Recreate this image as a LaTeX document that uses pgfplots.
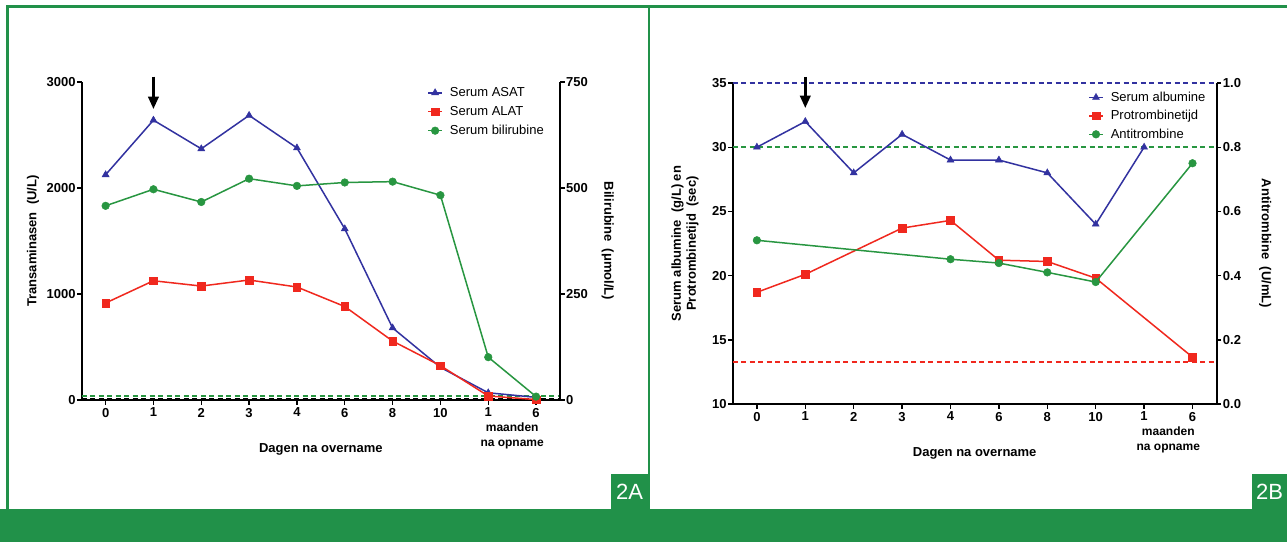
\documentclass[border=0pt]{standalone}
\usepackage{pgfplots}
\pgfplotsset{compat=1.18}
\usepackage{fontspec}
\setmainfont{Liberation Sans}
\usetikzlibrary{arrows.meta}
\definecolor{cblue}{RGB}{50,50,160}
\definecolor{cred}{RGB}{240,40,30}
\definecolor{cgreen}{RGB}{40,150,65}
\definecolor{fgreen}{RGB}{33,145,73}

\pgfplotsset{
  prism/.style={
    scale only axis,
    anchor=south west,
    xmin=-0.5, xmax=9.5,
    clip=false,
    axis line style={-, line width=1.6pt, black},
    tick style={line width=1.4pt, black},
    major tick length=4.5pt,
    tick align=outside,
    /pgf/number format/assume math mode=true,
    /pgf/number format/1000 sep={},
    tick label style={font=\fontsize{13}{15}\selectfont\bfseries},
    yticklabel style={inner sep=1.5pt},
    label style={font=\fontsize{13}{15}\selectfont\bfseries},
    legend style={draw=none, fill=none, font=\fontsize{13}{15}\selectfont, cells={anchor=west}, row sep=4.3pt},
    legend image code/.code={\draw[mark repeat=2,mark phase=2] plot coordinates {(0pt,0pt)(7pt,0pt)(14pt,0pt)};},
  },
  leftax/.style={prism, axis x line*=bottom, axis y line*=left, xtick={0,...,9}, xticklabels={0,1,2,3,4,6,8,10,1,6}},
  rightax/.style={prism, axis x line=none, axis y line*=right},
  sb/.style={cblue, line width=1.5pt, mark=triangle*, mark size=4pt, mark options={solid, line width=0.5pt}},
  sr/.style={cred, line width=1.5pt, mark=square*, mark size=3.8pt, mark options={solid, line width=0.5pt}},
  sg/.style={cgreen, line width=1.5pt, mark=*, mark size=3.8pt, mark options={solid, line width=0.5pt}},
  dsh/.style={line width=1.9pt, dash pattern=on 5pt off 3.5pt, no markers},
}

\begin{document}
\begin{tikzpicture}
\useasboundingbox (0pt,0pt) rectangle (1287pt,542pt);
\fill[white] (0pt,0pt) rectangle (1287pt,542pt);
% frame
\fill[fgreen] (0pt,0pt) rectangle (1287pt,33pt);
\fill[fgreen] (6pt,534pt) rectangle (1287pt,536.5pt);
\fill[fgreen] (6pt,33pt) rectangle (8.5pt,536.5pt);
\fill[fgreen] (647.5pt,33pt) rectangle (650pt,536.5pt);
\fill[fgreen] (611pt,33pt) rectangle (648pt,68pt);
\fill[fgreen] (1252pt,33pt) rectangle (1287pt,68pt);
\node[white, font=\fontsize{22}{24}\selectfont] at (629.5pt,50.5pt) {2A};
\node[white, font=\fontsize{22}{24}\selectfont] at (1269.5pt,50.5pt) {2B};

% ===== Panel 2A =====
\begin{axis}[leftax, at={(81.7pt,142pt)}, width=478.3pt, height=318pt,
  ymin=0, ymax=3000, ytick={0,1000,2000,3000},
  xlabel={Dagen na overname},
  xlabel style={at={(axis description cs:0.5,-0.155)}, anchor=center},
  ylabel={Transaminasen\ \ (U/L)},
  ylabel style={at={(axis description cs:-0.102,0.5)}, anchor=center},
]
\addplot[dsh, cgreen] coordinates {(-0.5,36) (9.5,36)};
\addplot[dsh, black] coordinates {(-0.5,13) (9.5,13)};
\addplot[sb] coordinates {(0,2125) (1,2640) (2,2370) (3,2685) (4,2378) (5,1615) (6,680) (7,308) (8,68) (9,25)};
\addplot[sr] coordinates {(0,915) (1,1125) (2,1075) (3,1132) (4,1066) (5,882) (6,556) (7,324) (8,38) (9,4)};
\draw[-{Triangle[width=10.5pt,length=12.5pt]}, line width=2.6pt, black] (axis cs:1,3050) -- (axis cs:1,2745);
\node[font=\fontsize{12}{14.7}\selectfont\bfseries, align=center] at (axis description cs:0.9,-0.113) {maanden\\na opname};
\end{axis}
\begin{axis}[rightax, at={(81.7pt,142pt)}, width=478.3pt, height=318pt,
  ymin=0, ymax=750, ytick={0,250,500,750},
  ylabel={Bilirubine\ \ (μmol/L)},
  ylabel style={at={(axis description cs:1.1,0.5)}, anchor=center, rotate=180},
  legend style={at={(axis description cs:0.716,0.996)}, anchor=north west},
]
\addlegendimage{sb}
\addlegendentry{\hspace{5pt}Serum ASAT}
\addlegendimage{sr}
\addlegendentry{\hspace{5pt}Serum ALAT}
\addplot[sg] coordinates {(0,458) (1,497) (2,467) (3,522) (4,505) (5,513) (6,515) (7,483) (8,101) (9,8)};
\addlegendentry{\hspace{5pt}Serum bilirubine}
\end{axis}

% ===== Panel 2B =====
\begin{axis}[leftax, at={(732.7pt,138pt)}, width=484pt, height=321pt,
  ymin=10, ymax=35, ytick={10,15,20,25,30,35},
  xlabel={Dagen na overname},
  xlabel style={at={(axis description cs:0.5,-0.153)}, anchor=center},
  ylabel={Serum albumine\ \ (g/L) en\\Protrombinetijd\ \ (sec)},
  ylabel style={at={(axis description cs:-0.0986,0.5)}, anchor=center, align=center},
]
\addplot[dsh, cblue] coordinates {(-0.5,35) (9.5,35)};
\addplot[dsh, cgreen] coordinates {(-0.5,30) (9.5,30)};
\addplot[dsh, cred] coordinates {(-0.5,13.3) (9.5,13.3)};
\addplot[sb] coordinates {(0,30) (1,32) (2,28) (3,31) (4,29) (5,29) (6,28) (7,24) (8,30)};
\addplot[sr] coordinates {(0,18.7) (1,20.1) (3,23.7) (4,24.3) (5,21.2) (6,21.1) (7,19.8) (9,13.65)};
\draw[-{Triangle[width=10.5pt,length=12.5pt]}, line width=2.6pt, black] (axis cs:1,35.47) -- (axis cs:1,33.05);
\node[font=\fontsize{12}{14.7}\selectfont\bfseries, align=center] at (axis description cs:0.9,-0.111) {maanden\\na opname};
\end{axis}
\begin{axis}[rightax, at={(732.7pt,138pt)}, width=484pt, height=321pt,
  ymin=0, ymax=1, ytick={0,0.2,0.4,0.6,0.8,1},
  yticklabel style={/pgf/number format/.cd, fixed, fixed zerofill, precision=1},
  ylabel={Antitrombine\ \ (U/mL)},
  ylabel style={at={(axis description cs:1.1,0.5)}, anchor=center, rotate=180},
  legend style={at={(axis description cs:0.728,0.985)}, anchor=north west, row sep=3.5pt},
]
\addlegendimage{sb}
\addlegendentry{\hspace{5pt}Serum albumine}
\addlegendimage{sr}
\addlegendentry{\hspace{5pt}Protrombinetijd}
\addplot[sg] coordinates {(0,0.51) (4,0.451) (5,0.439) (6,0.41) (7,0.38) (9,0.75)};
\addlegendentry{\hspace{5pt}Antitrombine}
\end{axis}
\end{tikzpicture}
\end{document}
